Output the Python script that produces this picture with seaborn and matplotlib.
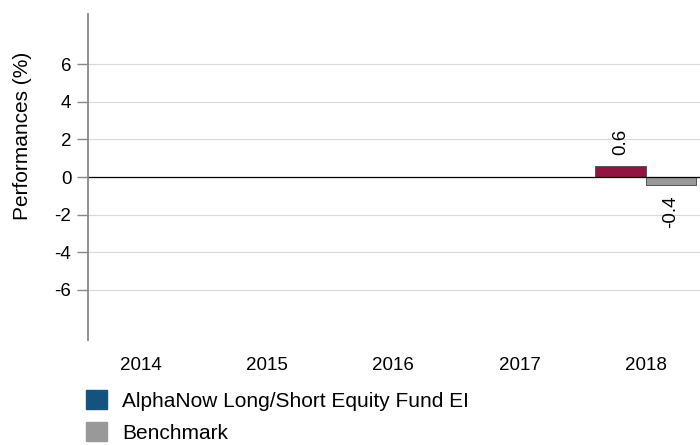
import numpy as np
import pandas as pd
import seaborn as sns
import matplotlib.pyplot as plt
from matplotlib.patches import Patch

# data
years = ["2014", "2015", "2016", "2017", "2018"]
fund = [np.nan, np.nan, np.nan, np.nan, 0.6]
benchmark = [np.nan, np.nan, np.nan, np.nan, -0.4]
series_names = ["AlphaNow Long/Short Equity Fund EI", "Benchmark"]

df = pd.DataFrame({
    "year": years * 2,
    "value": fund + benchmark,
    "series": [series_names[0]] * 5 + [series_names[1]] * 5,
})

sns.set_style("white")
plt.rcParams["font.family"] = ["Liberation Sans", "DejaVu Sans"]
plt.rcParams["text.color"] = "black"
plt.rcParams["xtick.color"] = "black"
plt.rcParams["ytick.color"] = "black"
plt.rcParams["axes.labelcolor"] = "black"

fig = plt.figure(figsize=(7, 4.45), dpi=100)
ax = fig.add_axes([88 / 700, 1 - 340 / 445, 612 / 700, 326 / 445])

sns.barplot(data=df, x="year", y="value", hue="series",
            palette=["#A6003A", "#999999"], width=0.8,
            edgecolor="#555555", linewidth=0.7, ax=ax, legend=False)

# value labels, rotated
for cont in ax.containers:
    labels = ["" if np.isnan(b.get_height()) else f"{b.get_height():.1f}" for b in cont]
    ax.bar_label(cont, labels=labels, rotation=90, padding=8, fontsize=13.5)

ax.set_xlim(-0.42, 4.43)
ax.set_ylim(-8.66, 8.66)
ax.set_yticks([-6, -4, -2, 0, 2, 4, 6])
ax.set_yticklabels(["-6", "-4", "-2", "0", "2", "4", "6"])
ax.yaxis.grid(True, color="#d9d9d9", linewidth=0.8)
ax.set_axisbelow(True)
ax.axhline(0, color="black", linewidth=0.9, zorder=1)

for s in ["top", "right", "bottom"]:
    ax.spines[s].set_visible(False)
ax.spines["left"].set_color("#888888")
ax.spines["left"].set_linewidth(1.3)

ax.tick_params(axis="y", length=8, width=1, color="#888888", labelsize=13.5, pad=4, left=True)
ax.tick_params(axis="x", length=0, labelsize=13.5, pad=12)
ax.set_xlabel("")
ax.set_ylabel("Performances (%)", fontsize=15)
ax.yaxis.set_label_coords(-0.092, 0.625)

handles = [Patch(facecolor="#15537F", edgecolor="#15537F"),
           Patch(facecolor="#999999", edgecolor="#999999")]
fig.legend(handles, series_names, loc="upper left", bbox_to_anchor=(78 / 700, 1 - 382 / 445),
           frameon=False, fontsize=15, handlelength=1.0, handleheight=1.0,
           handletextpad=0.7, labelspacing=0.55, borderaxespad=0)

fig.savefig("out.png", dpi=100)
